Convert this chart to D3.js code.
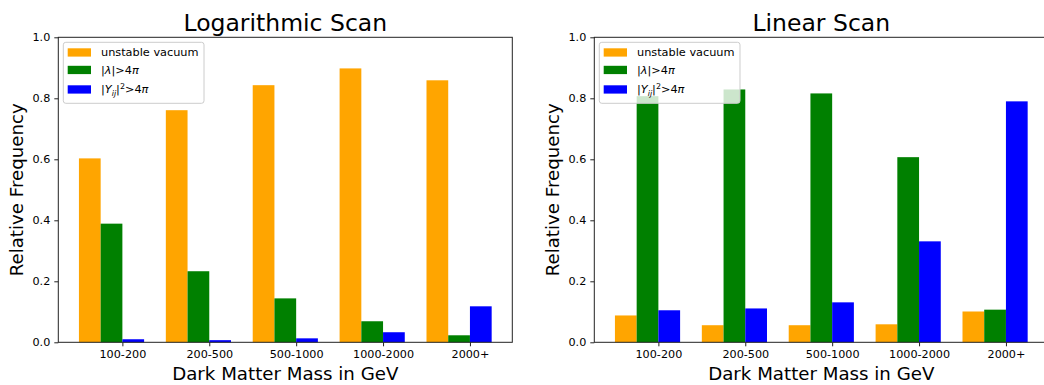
<!DOCTYPE html>
<html>
<head>
<meta charset="utf-8">
<script src="https://cdn.jsdelivr.net/npm/d3@7"></script>
<style>
  html, body { margin: 0; padding: 0; background: #fff; overflow: hidden; }
  svg { display: block; font-family: "DejaVu Sans", sans-serif; }
</style>
</head>
<body>
<svg id="chart" width="1044" height="385"></svg>
<script>
// Mass bins shared by both scans
const categories = ["100-200", "200-500", "500-1000", "1000-2000", "2000+"];

// Logarithmic scan: relative frequency of each failure reason
const logUnstable = [0.603, 0.761, 0.843, 0.898, 0.859];
const logLambda   = [0.389, 0.233, 0.144, 0.069, 0.023];
const logYukawa   = [0.010, 0.007, 0.013, 0.033, 0.118];

// Linear scan
const linUnstable = [0.088, 0.056, 0.056, 0.059, 0.101];
const linLambda   = [0.807, 0.829, 0.816, 0.607, 0.107];
const linYukawa   = [0.105, 0.111, 0.131, 0.331, 0.790];

const yTicks = [0.0, 0.2, 0.4, 0.6, 0.8, 1.0];

const seriesColors = ["#ffa500", "#008000", "#0000ff"];
const barWidth = 0.25;

const svg = d3.select("#chart");

function drawPanel(opts) {
  const { left, top, width, height, title, series } = opts;
  const g = svg.append("g");

  const x = d3.scaleLinear()
    .domain([-0.2375, categories.length - 1 + 3 * barWidth + 0.2375])
    .range([left, left + width]);
  const y = d3.scaleLinear().domain([0, 1]).range([top + height, top]);

  // bars: three series side by side, left-aligned at i, i+w, i+2w
  series.forEach((vals, k) => {
    g.append("g").selectAll("rect")
      .data(vals)
      .join("rect")
      .attr("x", (d, i) => x(i + k * barWidth))
      .attr("width", x(barWidth) - x(0))
      .attr("y", d => y(d))
      .attr("height", d => y(0) - y(d))
      .attr("fill", seriesColors[k]);
  });

  // y axis
  const yAxis = g.append("g")
    .attr("transform", `translate(${left},0)`)
    .call(d3.axisLeft(y).tickValues(yTicks).tickFormat(d3.format(".1f")).tickSize(4).tickPadding(4));
  yAxis.select(".domain").remove();
  yAxis.selectAll("text").attr("font-size", 11.2).attr("fill", "#000").attr("font-family", "DejaVu Sans");
  yAxis.selectAll("line").attr("stroke", "#222").attr("stroke-width", 1);

  // x axis, ticks at each group's green/blue boundary
  const xAxis = g.append("g")
    .attr("transform", `translate(0,${top + height})`)
    .call(d3.axisBottom(x)
      .tickValues(categories.map((c, i) => i + 2 * barWidth))
      .tickFormat((d, i) => categories[i])
      .tickSize(4).tickPadding(4));
  xAxis.select(".domain").remove();
  xAxis.selectAll("text").attr("font-size", 11.2).attr("fill", "#000").attr("font-family", "DejaVu Sans");
  xAxis.selectAll("line").attr("stroke", "#222").attr("stroke-width", 1);

  // frame
  g.append("rect")
    .attr("x", left).attr("y", top)
    .attr("width", width).attr("height", height)
    .attr("fill", "none")
    .attr("stroke", "#222")
    .attr("stroke-width", 1);

  // title and axis labels
  g.append("text")
    .attr("x", left + width / 2).attr("y", 31)
    .attr("text-anchor", "middle")
    .attr("font-size", 23.5)
    .text(title);

  g.append("text")
    .attr("x", left + width / 2).attr("y", 380)
    .attr("text-anchor", "middle")
    .attr("font-size", 18.2)
    .text("Dark Matter Mass in GeV");

  g.append("text")
    .attr("transform", `translate(${left - 35.5},${top + height / 2}) rotate(-90)`)
    .attr("text-anchor", "middle")
    .attr("font-size", 18.2)
    .text("Relative Frequency");

  // legend
  const lg = g.append("g").attr("transform", `translate(${left + 5},${top + 5})`);
  lg.append("rect")
    .attr("x", 0).attr("y", 0)
    .attr("width", 140.7).attr("height", 61)
    .attr("rx", 2.5)
    .attr("fill", "#fff").attr("fill-opacity", 0.8)
    .attr("stroke", "#cccccc").attr("stroke-width", 1);

  const rowY = [10, 27.5, 47];
  rowY.forEach((ry, k) => {
    lg.append("rect")
      .attr("x", 4.4).attr("y", ry - 4)
      .attr("width", 23.3).attr("height", 8.3)
      .attr("fill", seriesColors[k]);
  });

  const fs = 11.3;
  const t0 = lg.append("text").attr("x", 37.7).attr("y", rowY[0] + 4).attr("font-size", fs);
  t0.text("unstable vacuum");

  const t1 = lg.append("text").attr("x", 37.7).attr("y", rowY[1] + 4).attr("font-size", fs);
  t1.append("tspan").text("|");
  t1.append("tspan").attr("font-style", "italic").text("λ");
  t1.append("tspan").text("|>4");
  t1.append("tspan").attr("font-style", "italic").text("π");

  const t2 = lg.append("text").attr("x", 37.7).attr("y", rowY[2] + 4).attr("font-size", fs);
  t2.append("tspan").text("|");
  t2.append("tspan").attr("font-style", "italic").text("Y");
  t2.append("tspan").attr("font-style", "italic").attr("font-size", fs * 0.7).attr("dy", 2.5).text("ij");
  t2.append("tspan").attr("dy", -2.5).text("|");
  t2.append("tspan").attr("font-size", fs * 0.7).attr("dy", -4.5).text("2");
  t2.append("tspan").attr("dy", 4.5).text(">4");
  t2.append("tspan").attr("font-style", "italic").text("π");
}

drawPanel({
  left: 58.3, top: 37.3, width: 454, height: 305,
  title: "Logarithmic Scan",
  series: [logUnstable, logLambda, logYukawa]
});

drawPanel({
  left: 594.3, top: 37.3, width: 454, height: 305,
  title: "Linear Scan",
  series: [linUnstable, linLambda, linYukawa]
});
</script>
</body>
</html>
